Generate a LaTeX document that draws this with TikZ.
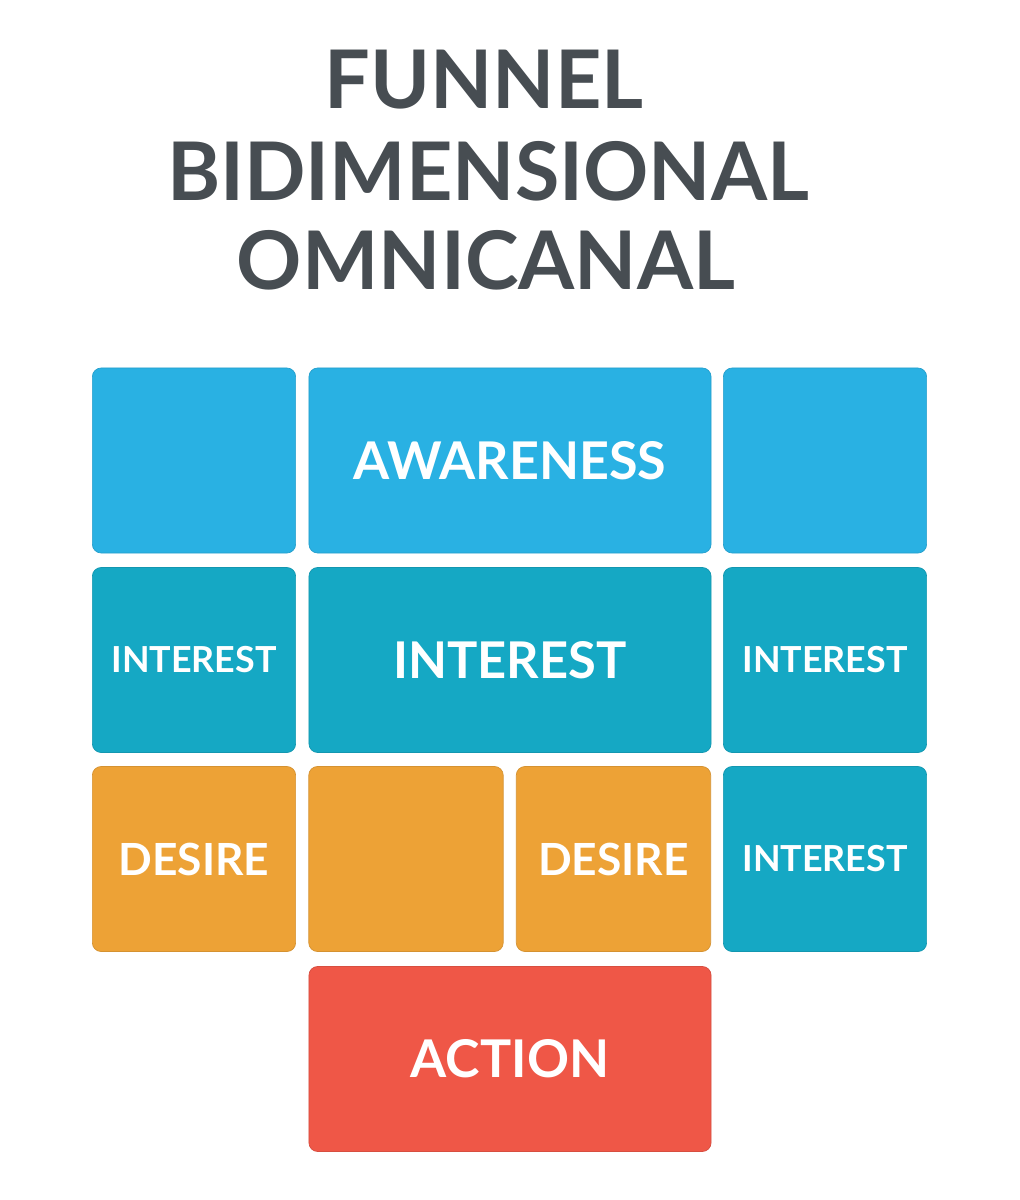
\documentclass[tikz,border=0pt]{standalone}
\usepackage{fontspec}
\setmainfont{Lato}
\usetikzlibrary{positioning}
\definecolor{titlegray}{HTML}{474D52}
\definecolor{awareblue}{HTML}{29B1E3}
\definecolor{interestteal}{HTML}{15A8C4}
\definecolor{desireorange}{HTML}{EDA236}
\definecolor{actionred}{HTML}{EF5747}
\tikzset{
  block/.style={
    shape = rectangle,
    rounded corners=0.22cm,
    inner sep = 0,
    line width=0.5pt,
    text=white,
    font=\bfseries
  },
  aware/.style={
    block,
    fill=awareblue,
    draw=awareblue!90!black
  },
  interest/.style={
    block,
    fill=interestteal,
    draw=interestteal!90!black
  },
  desire/.style={
    block,
    fill=desireorange,
    draw=desireorange!90!black
  },
  action/.style={
    block,
    fill=actionred,
    draw=actionred!90!black
  },
  wide/.style={minimum width=10.05cm, minimum height=4.625cm},
  narrow/.style={minimum width=5.08cm, minimum height=4.625cm},
  half/.style={minimum width=4.86cm, minimum height=4.625cm}
}
\newcommand{\fs}[1]{\fontsize{#1}{#1}\selectfont}
\begin{document}
\begin{tikzpicture}[x=0.025cm,y=-0.025cm]
  \useasboundingbox[fill=white] (0,0) rectangle (1019,1200);
  % title
  \node[text=titlegray,font=\bfseries\fs{57.5pt}] (title1) at (484,80) {FUNNEL};
  \node[text=titlegray,font=\bfseries\fs{57.5pt}] (title2) at (488,171) {BIDIMENSIONAL};
  \node[text=titlegray,font=\bfseries\fs{57.5pt}] (title3) at (486,260) {OMNICANAL};
  % row 1
  \node[aware,narrow] (a1) at (194,460.5) {};
  \node[aware,wide,font=\bfseries\fs{37pt}] (a2) at (510,460.5) {AWARENESS};
  \node[aware,narrow] (a3) at (825,460.5) {};
  % row 2
  \node[interest,narrow,font=\bfseries\fs{25.5pt}] (i1) at (194,660) {INTEREST};
  \node[interest,wide,font=\bfseries\fs{36pt}] (i2) at (510,660) {INTEREST};
  \node[interest,narrow,font=\bfseries\fs{25.5pt}] (i3) at (825,660) {INTEREST};
  % row 3
  \node[desire,narrow,font=\bfseries\fs{31.5pt}] (d1) at (194,859) {DESIRE};
  \node[desire,half] (d2) at (406,859) {};
  \node[desire,half,font=\bfseries\fs{31.5pt}] (d3) at (613.5,859) {DESIRE};
  \node[interest,narrow,font=\bfseries\fs{25.5pt}] (i4) at (825,859) {INTEREST};
  % row 4
  \node[action,wide,font=\bfseries\fs{37pt}] (act) at (510,1059) {ACTION};
\end{tikzpicture}
\end{document}
